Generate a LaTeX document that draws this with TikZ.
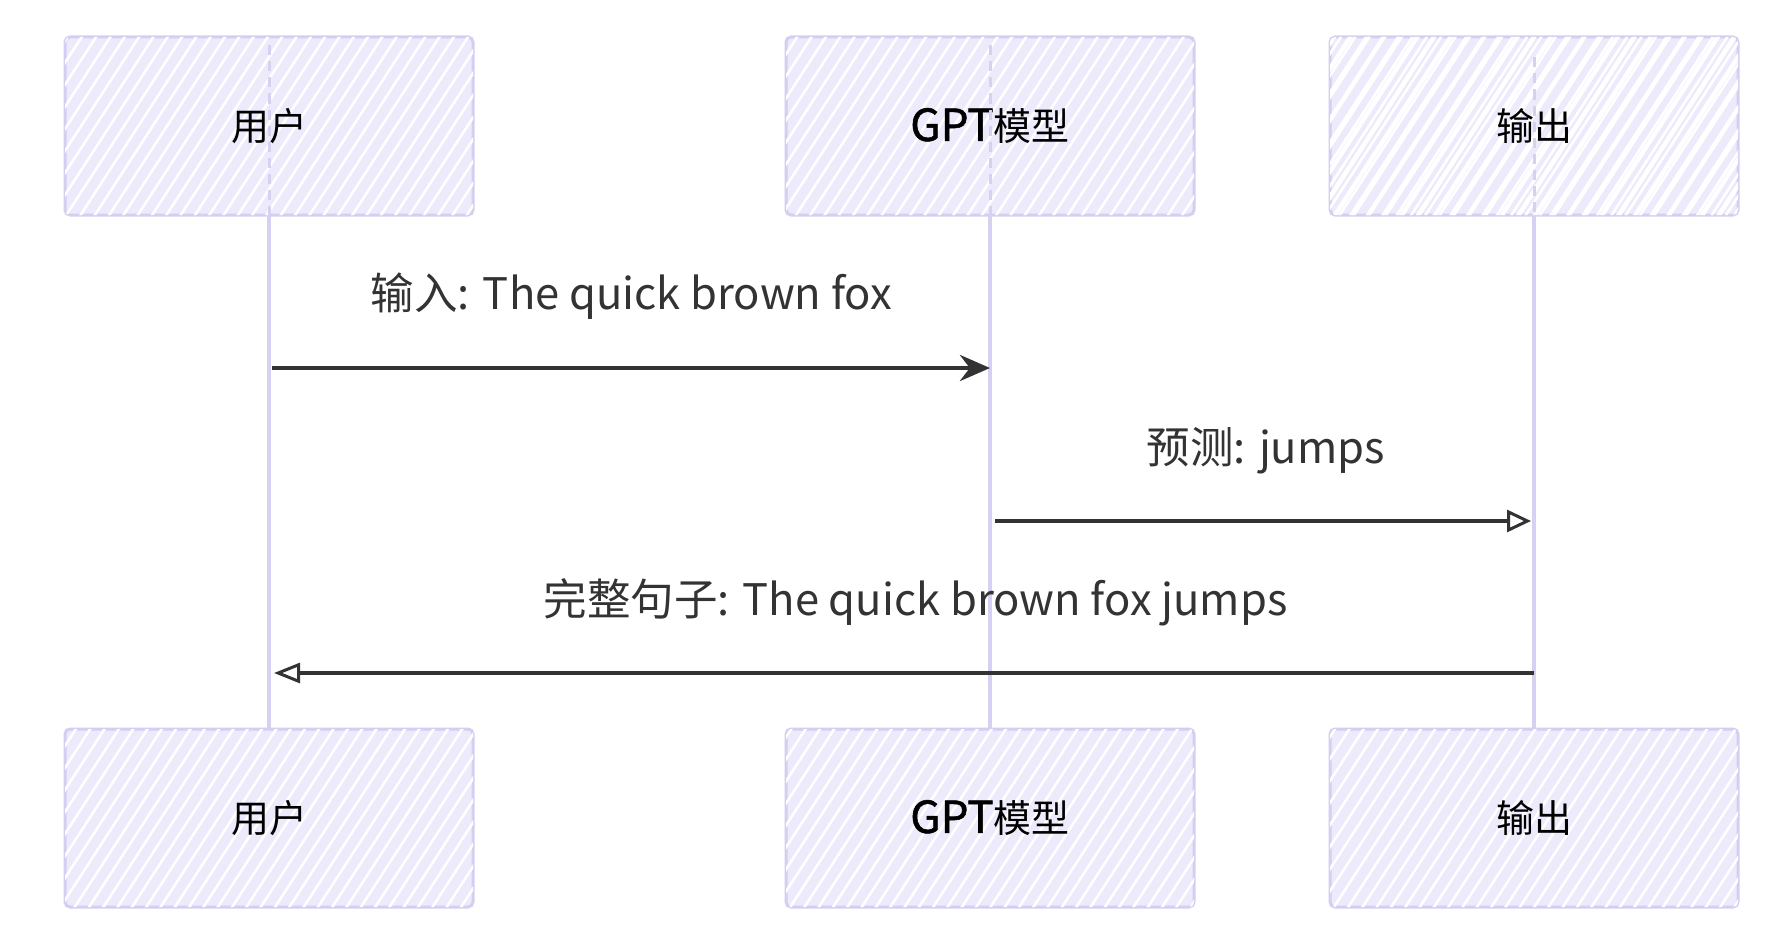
\documentclass[tikz,border=0pt]{standalone}
\usepackage{fontspec}
\setmainfont{Noto Sans CJK SC}
\newfontfamily\gptfont{Noto Sans CJK SC}[FakeBold=1.2]
\usetikzlibrary{arrows.meta,patterns.meta,calc}
\definecolor{boxfill}{HTML}{ECEAFB}
\definecolor{boxline}{HTML}{D6CEF0}
\definecolor{lifec}{HTML}{D8D0F0}
\definecolor{ink}{HTML}{333333}
\tikzset{
  actor/.style={draw=boxline, line width=3pt, rounded corners=5pt, fill=boxfill,
    minimum width=408pt, minimum height=178pt, inner sep=0pt,
    font=\fontsize{38}{44}\selectfont, text=black,
    postaction={pattern={Lines[angle=57,distance=12pt,line width=2.6pt]}, pattern color=white}},
  actorb/.style={actor, postaction={pattern={Lines[angle=57,distance=14pt,line width=4.5pt]}, pattern color=white}},
  lifeline/.style={draw=lifec, line width=4pt},
  lifedash/.style={draw=lifec, line width=3pt, dash pattern=on 10pt off 6pt},
  msg/.style={draw=ink, line width=4.5pt},
  lbl/.style={font=\fontsize{43.5}{50}\selectfont, text=ink, inner sep=0pt}
}
\newcommand{\gpt}{{\gptfont\fontsize{44}{50}\selectfont GPT}}
\begin{document}
\begin{tikzpicture}[x=1pt,y=-1pt]
\useasboundingbox (0,0) rectangle (1792,934);
\fill[white] (0,0) rectangle (1792,934);

% lifelines
\coordinate (ut) at (269,215);
\coordinate (gt) at (990,215);
\coordinate (ot) at (1534,215);
\coordinate (ub) at (269,729);
\coordinate (gb) at (990,729);
\coordinate (ob) at (1534,729);
\draw[lifeline] (ut) -- (ub);
\draw[lifeline] (gt) -- (gb);
\draw[lifeline] (ot) -- (ob);

% top actors
\node[actor] (uTop) at (269,126) {用户};
\node[actor] (gTop) at (990,126) {\gpt 模型};
\node[actorb] (oTop) at (1534,126) {输出};
% bottom actors
\node[actor] (uBot) at (269,818) {用户};
\node[actor] (gBot) at (990,818) {\gpt 模型};
\node[actor] (oBot) at (1534,818) {输出};

% lifeline traces through the top boxes
\draw[lifedash] ($(uTop.north)+(0,10)$) -- (uTop.south);
\draw[lifedash] ($(gTop.north)+(0,10)$) -- (gTop.south);
\draw[lifedash] ($(oTop.north)+(0,22)$) -- (oTop.south);

% message levels
\coordinate (y1) at (0,368);
\coordinate (y2) at (0,521);
\coordinate (y3) at (0,673);

\draw[msg, -{Stealth[length=30pt,width=26pt]}, shorten <=3pt]
  (uTop |- y1) -- node[lbl, yshift=72pt, xshift=2pt] (l1) {输入: The quick brown fox} (gTop |- y1);
\draw[msg, -{Triangle[open,length=24pt,width=22pt,line width=3pt]}, shorten <=5pt, shorten >=3pt]
  (gTop |- y2) -- node[lbl, yshift=70pt, xshift=4pt] (l2) {预测: jumps} (oTop |- y2);
\draw[msg, -{Triangle[open,length=26pt,width=20pt,line width=3pt]}, shorten >=5pt]
  (oTop |- y3) -- node[lbl, yshift=71pt, xshift=14pt] (l3) {完整句子: The quick brown fox jumps} (uTop |- y3);
\end{tikzpicture}
\end{document}
